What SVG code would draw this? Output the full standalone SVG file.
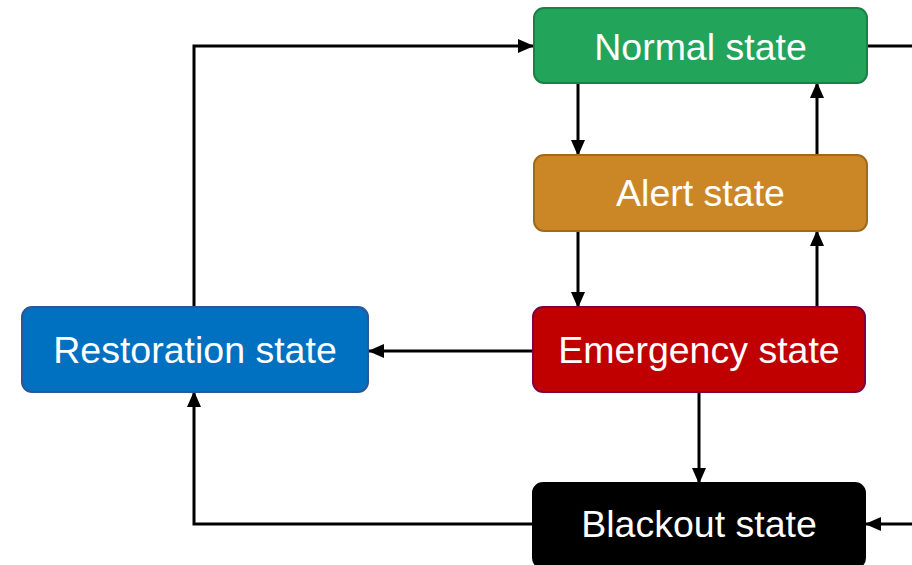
<svg xmlns="http://www.w3.org/2000/svg" width="912" height="565" viewBox="0 0 912 565">
<defs>
<marker id="ah" viewBox="0 0 16 14" refX="15" refY="7" markerWidth="16" markerHeight="14" markerUnits="userSpaceOnUse" orient="auto" overflow="visible">
<path d="M0,0 L16,7 L0,14 z" fill="#000"/>
</marker>
<style>
.box{stroke-width:2}
.lbl{font-family:"Liberation Sans",Arial,sans-serif;font-size:37.5px;fill:#fff;text-anchor:middle}
.c{fill:none;stroke:#000;stroke-width:3}
.a{marker-end:url(#ah)}
</style>
</defs>
<rect width="912" height="565" fill="#fff"/>
<g id="connectors">
<path class="c a" d="M194,307 V46 H533"/>
<path class="c" d="M867,46 H912"/>
<path class="c a" d="M912,524 H866"/>
<path class="c a" d="M578,83 V155"/>
<path class="c a" d="M817,155 V83"/>
<path class="c a" d="M578,231 V307"/>
<path class="c a" d="M817,307 V231"/>
<path class="c a" d="M533,351 H369"/>
<path class="c a" d="M699,392 V483"/>
<path class="c a" d="M533,524 H194 V392"/>
</g>
<g id="normal">
<rect class="box" x="534" y="8" width="333" height="75" rx="10" fill="#23A45B" stroke="#1B8048"/>
<text class="lbl" x="700.5" y="60">Normal state</text>
</g>
<g id="alert">
<rect class="box" x="534" y="155" width="333" height="76" rx="10" fill="#CB8725" stroke="#9E6A1C"/>
<text class="lbl" x="700.5" y="206">Alert state</text>
</g>
<g id="emergency">
<rect class="box" x="533" y="307" width="332" height="85" rx="10" fill="#C00000" stroke="#800040"/>
<text class="lbl" x="699" y="363">Emergency state</text>
</g>
<g id="restoration">
<rect class="box" x="22" y="307" width="346" height="85" rx="10" fill="#0070C0" stroke="#2F5597"/>
<text class="lbl" x="195" y="363">Restoration state</text>
</g>
<g id="blackout">
<rect class="box" x="533" y="483" width="332" height="85" rx="10" fill="#000" stroke="#000"/>
<text class="lbl" x="699" y="537">Blackout state</text>
</g>
</svg>
